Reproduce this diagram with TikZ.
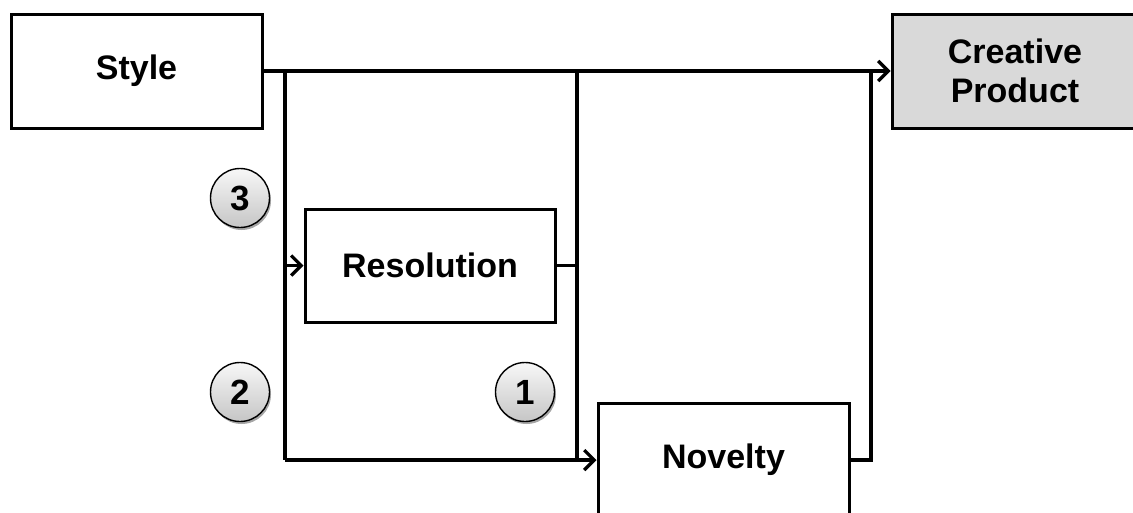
\documentclass[tikz,border=0pt]{standalone}
\usepackage{fontspec}
\setmainfont{Liberation Sans}
\usetikzlibrary{arrows.meta,shadows}
\begin{document}
\begin{tikzpicture}[x=1pt,y=-1pt,
  box/.style={draw=black,line width=3pt,fill=white,minimum width=251pt,minimum height=114pt,inner sep=0pt,align=center,font=\bfseries\fontsize{34}{39}\selectfont,
    drop shadow={shadow xshift=1.5pt,shadow yshift=-2pt,opacity=0.25,fill=black}},
  conn/.style={line width=3.1pt},
  arr/.style={conn,-{Straight Barb[length=10pt,width=20pt,line width=3.2pt]}},
  num/.style={circle,draw=black,line width=1.4pt,minimum size=59pt,inner sep=0pt,
    top color=gray!6,bottom color=gray!45,font=\bfseries\fontsize{35}{35}\selectfont,
    drop shadow={shadow xshift=1.5pt,shadow yshift=-2.5pt,opacity=0.35,fill=black}}]
\useasboundingbox (0,0) rectangle (1133,512);
\clip (0,0) rectangle (1133,512);
\node[box] (style) at (136.5,71) {Style};
\node[box,fill=gray!30,minimum width=246pt] (creative) at (1015,71) {Creative\\Product};
\node[box,minimum width=250pt,minimum height=113pt] (res) at (430,265.5) {Resolution};
\node[box] (nov) at (723.5,460) {Novelty};
\node[num] (n3) at (240,198) {3};
\node[num] (n2) at (240,392) {2};
\node[num] (n1) at (525,392) {1};
\coordinate (jA) at (285,71);
\coordinate (jB) at (285,460);
\coordinate (jC) at (577,71);
\coordinate (jD) at (577,460);
\coordinate (jE) at (871,71);
\draw[arr] (style.east) -- (creative.west);
\draw[conn] (jA) -- (jB);
\draw[arr] (jB) -- (nov.west);
\draw[arr] (jA |- res.west) -- (res.west);
\draw[conn] (jC) -- (jD);
\draw[conn] (res.east) -- (jC |- res.east);
\draw[conn] (nov.east) -| (jE);
\end{tikzpicture}
\end{document}
